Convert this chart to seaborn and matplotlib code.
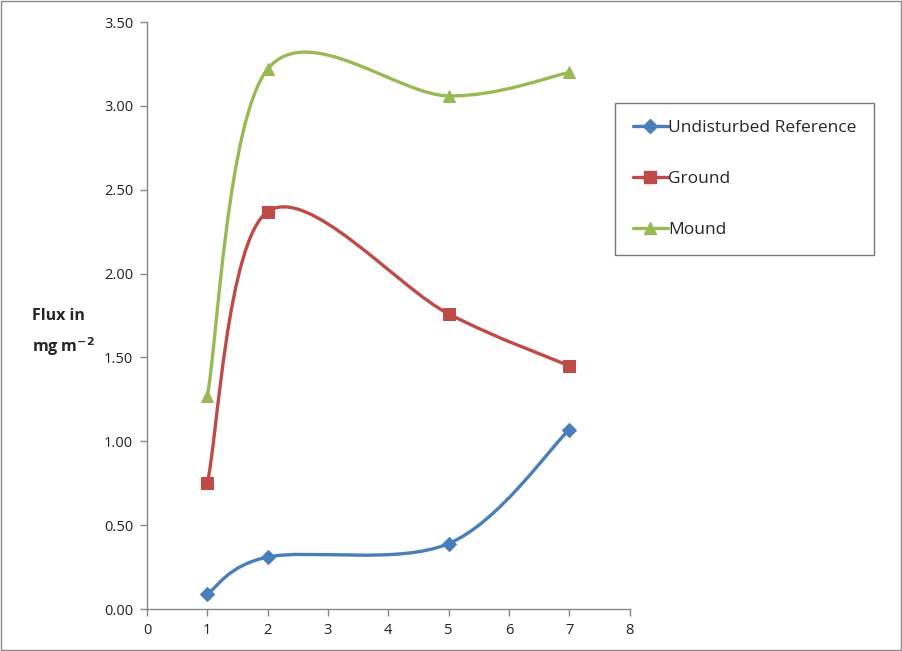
import numpy as np
import pandas as pd
import matplotlib
matplotlib.use("Agg")
import matplotlib.pyplot as plt
from matplotlib.path import Path
from matplotlib.patches import PathPatch, Rectangle
from matplotlib.lines import Line2D
import seaborn as sns

# ---- data ----
days = [1, 2, 5, 7]
undisturbed = [0.09, 0.31, 0.39, 1.07]
ground = [0.75, 2.37, 1.76, 1.45]
mound = [1.27, 3.22, 3.06, 3.20]
series_names = ["Undisturbed Reference", "Ground", "Mound"]
x_ticks = [0, 1, 2, 3, 4, 5, 6, 7, 8]
y_ticks = [0.0, 0.5, 1.0, 1.5, 2.0, 2.5, 3.0, 3.5]

colors = ["#4A7EBB", "#BE4B48", "#98B954"]
markers = ["D", "s", "^"]
msizes = [7, 8, 8]

sns.set_theme(style="white")
plt.rcParams['font.family'] = ['Open Sans', 'DejaVu Sans']

df = pd.DataFrame({
    "day": days * 3,
    "flux": undisturbed + ground + mound,
    "series": sum([[n] * len(days) for n in series_names], []),
})

fig = plt.figure(figsize=(9.02, 6.51), dpi=100)
fig.patch.set_facecolor("white")
ax = fig.add_axes([0.163, 0.0645, 0.535, 0.9015])


def smooth_path(xs, ys):
    pts = np.column_stack([xs, ys]).astype(float)
    n = len(pts)
    verts = [pts[0]]
    codes = [Path.MOVETO]
    for i in range(n - 1):
        p0 = pts[i - 1] if i > 0 else pts[i]
        p1 = pts[i]
        p2 = pts[i + 1]
        p3 = pts[i + 2] if i + 2 < n else pts[i + 1]
        c1 = p1 + (p2 - p0) / 6.0
        c2 = p2 - (p3 - p1) / 6.0
        verts += [c1, c2, p2]
        codes += [Path.CURVE4] * 3
    return Path(verts, codes)


for name, col in zip(series_names, colors):
    sub = df[df.series == name]
    patch = PathPatch(smooth_path(sub.day.values, sub.flux.values), facecolor="none",
                      edgecolor=col, lw=2.4, capstyle="round", joinstyle="round", zorder=2)
    ax.add_patch(patch)

for name, col, mk, ms in zip(series_names, colors, markers, msizes):
    sub = df[df.series == name]
    sns.lineplot(data=sub, x="day", y="flux", ax=ax, color=col, marker=mk, markersize=ms,
                 linestyle="", markeredgecolor=col, legend=False, zorder=3)

ax.set_xlim(0, 8)
ax.set_ylim(0, 3.5)
ax.set_xticks(x_ticks)
ax.set_yticks(y_ticks)
ax.set_xticklabels([str(t) for t in x_ticks])
ax.set_yticklabels([f"{t:.2f}" for t in y_ticks])
ax.set_xlabel("")
ax.set_ylabel("")
for s in ["top", "right"]:
    ax.spines[s].set_visible(False)
for s in ["left", "bottom"]:
    ax.spines[s].set_color("#868686")
    ax.spines[s].set_linewidth(1.0)
ax.tick_params(axis="both", direction="out", length=5, width=1, color="#868686",
               labelsize=10.5, labelcolor="#222222", pad=5, left=True, bottom=True)

fig.text(0.035, 0.515, "Flux in", fontsize=11.5, fontweight="bold", ha="left", va="center")
fig.text(0.035, 0.468, "mg m$^{\\mathbf{-2}}$", fontsize=11.5, fontweight="bold", ha="left", va="center")

handles = [Line2D([0], [0], color=c, lw=2.4, marker=m, markersize=s, markeredgecolor=c)
           for c, m, s in zip(colors, markers, msizes)]
leg = fig.legend(handles, series_names, loc="upper left", bbox_to_anchor=(0.682, 0.842),
                 frameon=True, fancybox=False, edgecolor="#555555", fontsize=12.5,
                 labelspacing=2.0, handlelength=2.05, handletextpad=0.0,
                 borderpad=1.0, borderaxespad=0)
leg.get_frame().set_linewidth(1.0)

fig.patches.append(Rectangle((0.001, 0.001), 0.998, 0.997, transform=fig.transFigure,
                             fill=False, edgecolor="#8c8c8c", lw=1.0))

fig.savefig("out.png", dpi=100, facecolor="white")
